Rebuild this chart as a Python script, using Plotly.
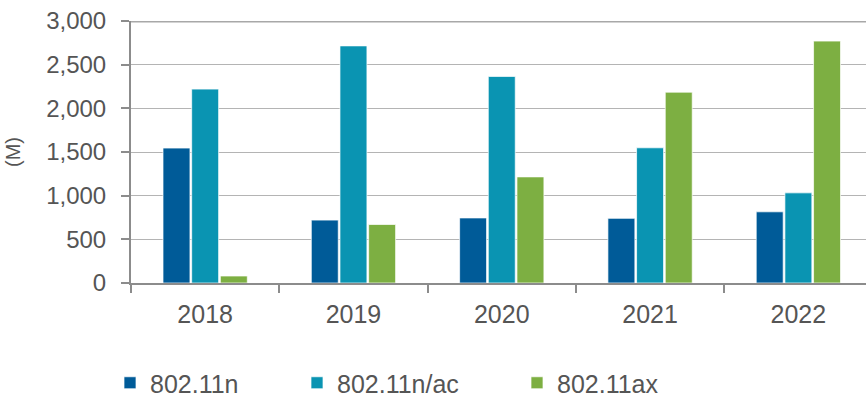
import plotly.graph_objects as go

years = ["2018", "2019", "2020", "2021", "2022"]
n_vals = [1545, 720, 745, 740, 815]
nac_vals = [2220, 2715, 2365, 1548, 1032]
ax_vals = [80, 670, 1215, 2185, 2770]
series_names = ["802.11n", "802.11n/ac", "802.11ax"]
colors = ["#005B98", "#0A94B2", "#7DAF42"]
y_ticks = [0, 500, 1000, 1500, 2000, 2500, 3000]
y_tick_text = ["0", "500", "1,000", "1,500", "2,000", "2,500", "3,000"]

legend_ids = ["legend", "legend2", "legend3"]
legend_x = [110, 297, 517]

font = "Liberation Sans, Arial, sans-serif"

fig = go.Figure()
for name, vals, c, lg in zip(series_names, [n_vals, nac_vals, ax_vals], colors, legend_ids):
    fig.add_trace(go.Bar(
        x=years, y=vals, name=name, legend=lg, showlegend=True,
        marker=dict(color=c, line=dict(color="rgba(255,255,255,0.7)", width=1)),
    ))

legend_layouts = {}
for lg, lx in zip(legend_ids, legend_x):
    legend_layouts[lg] = dict(
        orientation="h", x=lx/866, xanchor="left", xref="container",
        y=15/398, yanchor="middle", yref="container",
        font=dict(size=25, family=font, color="#555555"),
        bgcolor="rgba(0,0,0,0)", borderwidth=0,
    )

fig.update_layout(
    width=866, height=398,
    showlegend=True,
    margin=dict(l=131, r=0, t=21, b=115),
    paper_bgcolor="white", plot_bgcolor="white",
    barmode="group", bargap=0.42, bargroupgap=0.06,
    font=dict(family=font, color="#555555"),
    xaxis=dict(
        range=[-0.5, 4.456], showline=True, linecolor="#8C8C8C", linewidth=2,
        ticks="outside", tickson="boundaries", ticklen=8, tickcolor="#8C8C8C", tickwidth=2,
        ticklabelstandoff=8,
        tickfont=dict(size=25, family=font, color="#555555"),
        showgrid=False, fixedrange=True,
    ),
    yaxis=dict(
        range=[0, 3000], tickvals=y_ticks, ticktext=y_tick_text,
        showline=True, linecolor="#8C8C8C", linewidth=2,
        ticks="outside", ticklen=8, tickcolor="#8C8C8C", tickwidth=2,
        ticklabelstandoff=10,
        tickfont=dict(size=24, family=font, color="#555555"),
        showgrid=True, gridcolor="#B4B4B4", gridwidth=1,
        zeroline=False,
        title=dict(text="(M)", font=dict(size=20, family=font, color="#555555"), standoff=20),
    ),
    shapes=[dict(type="line", xref="paper", yref="y", x0=0, x1=1, y0=3000, y1=3000,
                 line=dict(color="#A8A8A8", width=3), layer="below")],
    **legend_layouts,
)

fig.write_html("out.html")
